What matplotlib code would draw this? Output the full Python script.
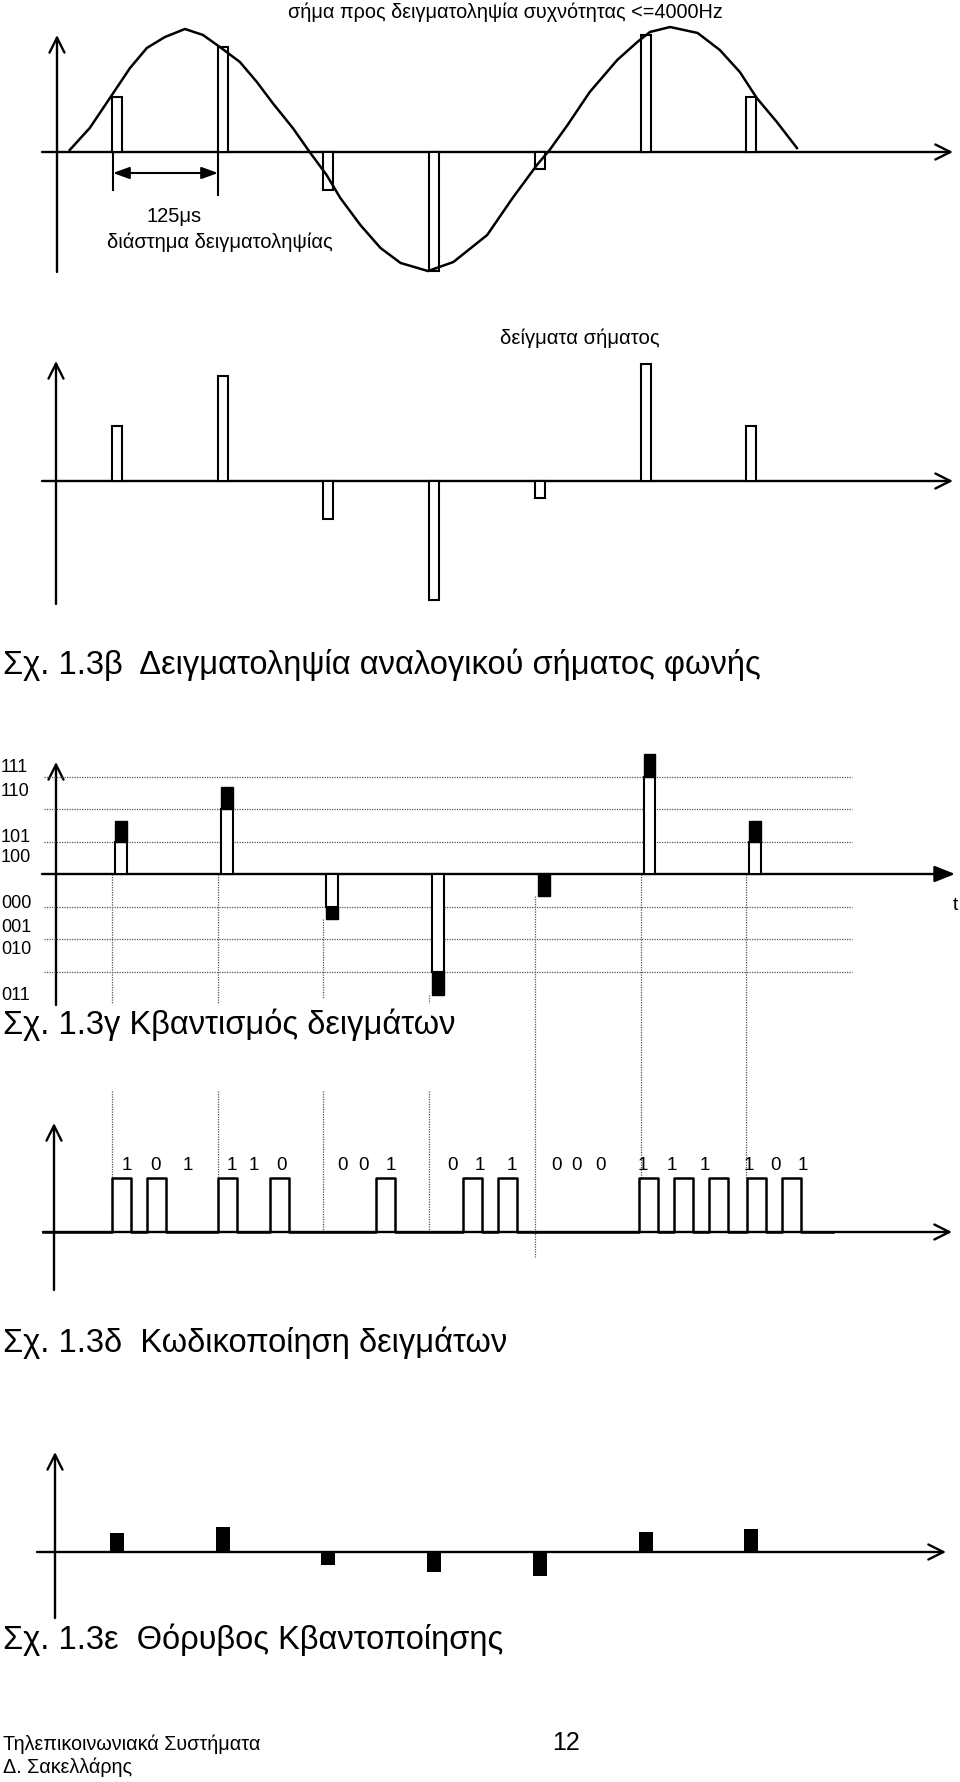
import numpy as np
import matplotlib
matplotlib.use("Agg")
import matplotlib.pyplot as plt
from matplotlib.transforms import blended_transform_factory

plt.rcParams['font.family'] = ['Liberation Sans', 'DejaVu Sans']

# ---- data ----
# sample instants (in sampling periods, 125 us each)
sample_t = [1, 2, 3, 4, 5, 6, 7]
# sampled amplitudes (arbitrary units, signal peak ~100)
samples = [44, 85, -31, -96, -14, 94, 44]

# analog voice signal, traced point by point
curve_t = [0.60, 0.79, 0.98, 1.17, 1.33, 1.50, 1.69, 1.86, 2.02, 2.21, 2.37,
           2.52, 2.71, 2.87, 3.03, 3.16, 3.35, 3.54, 3.73, 3.99, 4.23, 4.55,
           4.79, 5.02, 5.14, 5.31, 5.52, 5.78, 5.97, 6.09, 6.28, 6.54, 6.75,
           6.94, 7.10, 7.29, 7.48]
curve_v = [1.6, 19.4, 43.5, 67.7, 83.9, 92.7, 99.2, 94.4, 84.7, 72.6, 56.5,
           39.5, 19.4, 0.0, -18.5, -37.1, -58.9, -77.4, -89.5, -96.0, -88.7,
           -66.9, -37.1, -10.5, 1.6, 21.8, 48.4, 74.2, 88.7, 96.8, 100.8, 96.0,
           82.3, 64.5, 43.5, 24.2, 3.2]

# quantisation (in quantisation steps)
quant_levels = [1, 2, -1, -3, 0, 3, 1]
quant_samples = [1.63, 2.68, -1.38, -3.72, -0.68, 3.69, 1.63]
level_lines = [3, 2, 1, -1, -2, -3]
level_codes = ["111", "110", "101", "100", "000", "001", "010", "011"]

# PCM words and the pulse train as drawn
codes = ["101", "110", "001", "011", "000", "111", "101"]
pulse_t = [1.0, 1.331, 2.003, 2.495, 3.498, 4.321, 4.652,
           5.986, 6.317, 6.648, 7.008, 7.339]

# quantisation noise (same units as samples)
noise = [15, 20, -10.5, -16, -19.5, 16, 18.5]

# ---- layout ----
W, H = 960, 1782
X_FIRST, X_STEP = 112, 105.7          # pixel of t=1 and pixels per period


def t_at(px):
    return 1 + (px - X_FIRST) / X_STEP


fig = plt.figure(figsize=(W / 100, H / 100), dpi=100)
ov = fig.add_axes([0, 0, 1, 1])
ov.set_xlim(0, W)
ov.set_ylim(H, 0)
ov.axis('off')


def band(top, bottom, zero, ppu):
    ax = fig.add_axes([0, 1 - bottom / H, 1, (bottom - top) / H])
    ax.set_xlim(t_at(0), t_at(W))
    ax.set_ylim((zero - bottom) / ppu, (zero - top) / ppu)
    ax.axis('off')
    ax.patch.set_alpha(0)
    return ax


def arrow(x0, y0, x1, y1, style='->,head_length=0.4,head_width=0.2', ms=27, lw=1.7):
    ov.annotate('', xy=(x1, y1), xytext=(x0, y0),
                arrowprops=dict(arrowstyle=style, lw=lw, color='k',
                                mutation_scale=ms, shrinkA=0, shrinkB=0))


def axes_pair(xaxis_y, x0, x1, yaxis_x, ytop, ybot, filled=False):
    style = '-|>,head_length=0.5,head_width=0.2' if filled else '->,head_length=0.4,head_width=0.2'
    arrow(x0, xaxis_y, x1, xaxis_y, style=style, ms=27 if not filled else 25)
    arrow(yaxis_x, ybot, yaxis_x, ytop)


dot = dict(color='#555555', lw=0.9, linestyle=(0, (1, 1)))
bw = 10 / X_STEP
CAP = 23.5

# ---- panel A: analog signal with samples ----
axA = band(0, 300, 152, 1.24)
axes_pair(152, 42, 953, 57, 35, 272)
axA.bar(sample_t, samples, width=bw, align='edge', facecolor='white',
        edgecolor='k', lw=1.5, zorder=2)
axA.plot(curve_t, curve_v, color='k', lw=1.8, zorder=3)
ov.text(505, 12, "σήμα προς δειγματοληψία συχνότητας <=4000Hz",
        ha='center', va='center', fontsize=14.3)
ov.plot([113, 113], [152, 190], color='k', lw=1.5)
ov.plot([218, 218], [152, 195], color='k', lw=1.5)
arrow(113, 173, 218, 173, style='<|-|>,head_length=0.55,head_width=0.2', ms=18, lw=1.5)
ov.text(174, 217, "125μs", ha='center', va='center', fontsize=14.5)
ov.text(220, 242, "διάστημα δειγματοληψίας", ha='center', va='center', fontsize=14.5)

# ---- panel B: samples only ----
axB = band(300, 640, 481, 1.24)
axes_pair(481, 42, 953, 56, 361, 604)
axB.bar(sample_t, samples, width=bw, align='edge', facecolor='white',
        edgecolor='k', lw=1.5, zorder=2)
ov.text(580, 338, "δείγματα σήματος", ha='center', va='center', fontsize=14.6)
ov.text(3, 665, "Σχ. 1.3β  Δειγματοληψία αναλογικού σήματος φωνής",
        ha='left', va='center', fontsize=CAP)

# ---- panel C: quantisation ----
step = 32.5
axC = band(740, 1015, 874, step)
axC.hlines(level_lines, t_at(44), t_at(852), **dot)
axes_pair(874, 42, 955, 56, 762, 1005, filled=True)
cw = 12 / X_STEP
c_off = 3 / X_STEP
ct = [t + c_off for t in sample_t]
axC.bar(ct, quant_levels, width=cw, align='edge', facecolor='white',
        edgecolor='k', lw=1.5, zorder=2)
err = [s - q for s, q in zip(quant_samples, quant_levels)]
axC.bar(ct, err, bottom=quant_levels, width=cw, align='edge', color='k',
        edgecolor='k', lw=1.0, zorder=3)
code_y = [768, 792, 837, 858, 904, 927, 949, 995]
for lab, y in zip(level_codes, code_y):
    ov.text(1, y, lab, ha='left', va='center', fontsize=13)
ov.text(955, 905, "t", ha='center', va='center', fontsize=14)
ov.text(3, 1025, "Σχ. 1.3γ Κβαντισμός δειγμάτων", ha='left', va='center', fontsize=CAP)

# dotted guides from panel C down to the PCM words
blend = blended_transform_factory(axC.transData, ov.transData)
c_start = [874 - min(0, s) * step for s in quant_samples]
c_end = [1004, 1003, 998, 1003, 1257, 1178, 1178]
for t, y0, y1 in zip(sample_t, c_start, c_end):
    ov.plot([t, t], [y0, y1], transform=blend, **dot)
for t in sample_t[:4]:
    ov.plot([t, t], [1091, 1232], transform=blend, **dot)

# ---- panel D: PCM coding ----
axD = band(1060, 1300, 1232, 54)
axes_pair(1232, 43, 952, 54, 1123, 1290)
pw = 19 / X_STEP
xs, ys = [t_at(43)], [0]
for p in pulse_t:
    xs += [p, p, p + pw, p + pw]
    ys += [0, 1, 1, 0]
xs.append(t_at(833))
ys.append(0)
axD.plot(xs, ys, color='k', lw=1.8, zorder=3)
digit_t = [1.142, 1.416, 1.719, 2.135, 2.343, 2.599, 3.176, 3.375, 3.640,
           4.217, 4.482, 4.784, 5.201, 5.399, 5.626, 6.024, 6.298, 6.610,
           7.026, 7.281, 7.537]
digits = "".join(codes)
for t, d in zip(digit_t, digits):
    axD.text(t, (1232 - 1165) / 54, d, ha='center', va='center', fontsize=13.5)
ov.text(3, 1343, "Σχ. 1.3δ  Κωδικοποίηση δειγμάτων", ha='left', va='center', fontsize=CAP)

# ---- panel E: quantisation noise ----
axE = band(1420, 1640, 1552, 1.24)
axes_pair(1552, 37, 946, 55, 1452, 1618)
nw = 14 / X_STEP
axE.bar([t + 5 / X_STEP for t in sample_t], noise, width=nw, color='k', zorder=3)
ov.text(3, 1640, "Σχ. 1.3ε  Θόρυβος Κβαντοποίησης", ha='left', va='center', fontsize=CAP)

# ---- footer ----
ov.text(3, 1744, "Τηλεπικοινωνιακά Συστήματα", ha='left', va='center', fontsize=14.2)
ov.text(3, 1767, "Δ. Σακελλάρης", ha='left', va='center', fontsize=14.2)
ov.text(566, 1743, "12", ha='center', va='center', fontsize=18)

fig.savefig("out.png", dpi=100)
